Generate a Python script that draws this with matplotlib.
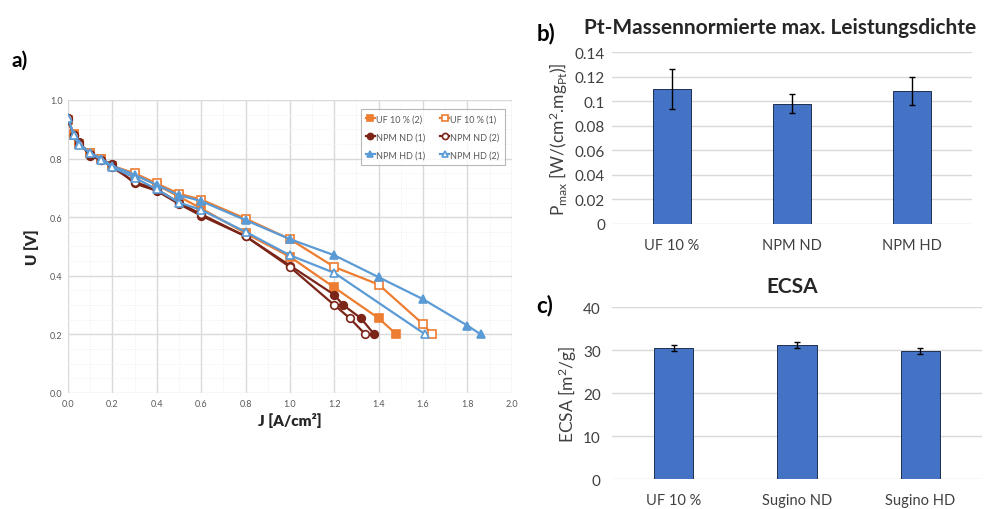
import numpy as np
import matplotlib.pyplot as plt
from matplotlib.ticker import MultipleLocator

plt.rcParams['font.family'] = ['Lato', 'DejaVu Sans']
plt.rcParams['mathtext.fontset'] = 'custom'
plt.rcParams['mathtext.rm'] = 'Lato'
plt.rcParams['mathtext.it'] = 'Lato:italic'
plt.rcParams['mathtext.bf'] = 'Lato:bold'

# ---- a) polarisation curves ----
J_uf2 = [0, 0.025, 0.05, 0.1, 0.15, 0.2, 0.3, 0.4, 0.5, 0.6, 0.8, 1.0, 1.2, 1.4, 1.48]
U_uf2 = [0.93, 0.885, 0.85, 0.82, 0.80, 0.775, 0.745, 0.71, 0.67, 0.63, 0.545, 0.465, 0.36, 0.255, 0.20]

J_uf1 = [0, 0.025, 0.05, 0.1, 0.15, 0.2, 0.3, 0.4, 0.5, 0.6, 0.8, 1.0, 1.2, 1.4, 1.6, 1.64]
U_uf1 = [0.93, 0.88, 0.85, 0.82, 0.80, 0.775, 0.75, 0.715, 0.68, 0.66, 0.595, 0.525, 0.43, 0.37, 0.235, 0.20]

J_nd1 = [0, 0.025, 0.05, 0.1, 0.15, 0.2, 0.3, 0.4, 0.5, 0.6, 0.8, 1.0, 1.2, 1.24, 1.32, 1.38]
U_nd1 = [0.93, 0.88, 0.855, 0.81, 0.795, 0.78, 0.715, 0.69, 0.645, 0.605, 0.535, 0.435, 0.335, 0.30, 0.255, 0.20]

J_nd2 = [0, 0.025, 0.05, 0.1, 0.15, 0.2, 0.3, 0.4, 0.5, 0.6, 0.8, 1.0, 1.2, 1.27, 1.34]
U_nd2 = [0.94, 0.88, 0.85, 0.815, 0.795, 0.77, 0.72, 0.695, 0.65, 0.61, 0.535, 0.43, 0.30, 0.255, 0.20]

J_hd1 = [0, 0.025, 0.05, 0.1, 0.15, 0.2, 0.3, 0.4, 0.5, 0.6, 0.8, 1.0, 1.2, 1.4, 1.6, 1.8, 1.86]
U_hd1 = [0.94, 0.88, 0.85, 0.82, 0.80, 0.775, 0.745, 0.71, 0.675, 0.655, 0.59, 0.525, 0.47, 0.395, 0.32, 0.23, 0.20]

J_hd2 = [0, 0.025, 0.05, 0.1, 0.15, 0.2, 0.3, 0.4, 0.5, 0.6, 0.8, 1.0, 1.2, 1.61]
U_hd2 = [0.94, 0.88, 0.845, 0.82, 0.795, 0.77, 0.735, 0.695, 0.65, 0.625, 0.55, 0.47, 0.41, 0.20]

# ---- b) mass-normalised max. power density ----
b_labels = ['UF 10 %', 'NPM ND', 'NPM HD']
b_values = [0.110, 0.098, 0.108]
b_errors = [0.016, 0.008, 0.0115]

# ---- c) ECSA ----
c_labels = ['UF 10 %', 'Sugino ND', 'Sugino HD']
c_values = [30.5, 31.2, 29.8]
c_errors = [0.6, 0.6, 0.7]

orange = '#ED7D31'
darkred = '#7B2418'
blue = '#5B9BD5'
bar_blue = '#4472C4'
grid_col = '#D9D9D9'
tick_col = '#595959'

fig = plt.figure(figsize=(9.9, 5.1), dpi=100)

# ---------------- a) ----------------
ax = fig.add_axes([0.0687, 0.2275, 0.4483, 0.5745])
series = [
    (J_uf2, U_uf2, orange, 's', True, 'UF 10 % (2)'),
    (J_uf1, U_uf1, orange, 's', False, 'UF 10 % (1)'),
    (J_nd1, U_nd1, darkred, 'o', True, 'NPM ND (1)'),
    (J_nd2, U_nd2, darkred, 'o', False, 'NPM ND (2)'),
    (J_hd1, U_hd1, blue, '^', True, 'NPM HD (1)'),
    (J_hd2, U_hd2, blue, '^', False, 'NPM HD (2)'),
]
handles = []
for j, u, c, m, filled, lab in series:
    h, = ax.plot(j, u, color=c, marker=m, markersize=5.5, linewidth=1.6,
                 markerfacecolor=c if filled else 'white', markeredgecolor=c,
                 markeredgewidth=1.2, label=lab, zorder=3)
    handles.append(h)

ax.set_xlim(0, 2.0)
ax.set_ylim(0, 1.0)
ax.xaxis.set_major_locator(MultipleLocator(0.2))
ax.yaxis.set_major_locator(MultipleLocator(0.2))
ax.xaxis.set_minor_locator(MultipleLocator(0.1))
ax.yaxis.set_minor_locator(MultipleLocator(0.05))
ax.xaxis.set_major_formatter(plt.FormatStrFormatter('%.1f'))
ax.yaxis.set_major_formatter(plt.FormatStrFormatter('%.1f'))
ax.grid(which='major', color=grid_col, linewidth=1.0)
ax.grid(which='minor', color='#EEEEEE', linewidth=0.7, linestyle=':')
ax.set_axisbelow(True)
for s in ax.spines.values():
    s.set_visible(False)
ax.tick_params(which='both', length=0, labelsize=6.5, colors=tick_col, pad=4)
ax.set_xlabel('J [A/cm²]', fontsize=11, fontweight='heavy', color='#262626', labelpad=3)
ax.set_ylabel('U [V]', fontsize=11, fontweight='heavy', color='#262626', labelpad=8)

# legend filled row by row: (2)/(1) pairs side by side
order = [0, 2, 4, 1, 3, 5]
leg = ax.legend([handles[i] for i in order], [series[i][5] for i in order],
                ncol=2, loc='upper right', fontsize=6.5, frameon=True, fancybox=False,
                edgecolor='#A6A6A6', handlelength=1.0, handletextpad=0.15,
                columnspacing=1.6, labelspacing=1.0, markerscale=0.8,
                borderpad=0.6, bbox_to_anchor=(0.995, 0.985))
leg.get_frame().set_linewidth(0.8)
for t in leg.get_texts():
    t.set_color(tick_col)
fig.text(0.012, 0.87, 'a)', fontsize=15, fontweight='bold')

# ---------------- b) ----------------
axb = fig.add_axes([0.618, 0.559, 0.364, 0.337])
xb = np.arange(len(b_labels))
axb.bar(xb, b_values, width=0.32, color=bar_blue, edgecolor='#1F2F4F', linewidth=0.7,
        yerr=b_errors, capsize=2.5, error_kw=dict(ecolor='black', elinewidth=1.0, capthick=1.0),
        zorder=3)
axb.set_xlim(-0.5, 2.5)
axb.set_ylim(0, 0.14)
axb.set_yticks(np.arange(0, 0.141, 0.02))
axb.set_yticklabels(['0', '0.02', '0.04', '0.06', '0.08', '0.1', '0.12', '0.14'])
axb.set_xticks(xb)
axb.set_xticklabels(b_labels)
axb.grid(axis='y', color=grid_col, linewidth=1.0)
axb.set_axisbelow(True)
for s in axb.spines.values():
    s.set_visible(False)
axb.tick_params(length=0, labelsize=11, colors='#404040', pad=5)
axb.tick_params(axis='x', labelsize=10.5, pad=10)
axb.set_ylabel(r'P$_{\mathrm{max}}$ [W/(cm$^2$.mg$_{\mathrm{Pt}}$)]', fontsize=12.5,
               color='#404040', labelpad=3)
fig.text(0.788, 0.945, 'Pt-Massennormierte max. Leistungsdichte', fontsize=15,
         fontweight='bold', ha='center', va='center', color='#262626')
fig.text(0.542, 0.935, 'b)', fontsize=16, fontweight='bold', va='center')

# ---------------- c) ----------------
axc = fig.add_axes([0.618, 0.0588, 0.374, 0.337])
xc = np.arange(len(c_labels))
axc.bar(xc, c_values, width=0.32, color=bar_blue, edgecolor='#1F2F4F', linewidth=0.7,
        yerr=c_errors, capsize=2.5, error_kw=dict(ecolor='black', elinewidth=1.0, capthick=1.0),
        zorder=3)
axc.set_xlim(-0.5, 2.5)
axc.set_ylim(0, 40)
axc.set_yticks([0, 10, 20, 30, 40])
axc.set_xticks(xc)
axc.set_xticklabels(c_labels)
axc.grid(axis='y', color=grid_col, linewidth=1.0)
axc.set_axisbelow(True)
for s in axc.spines.values():
    s.set_visible(False)
axc.tick_params(length=0, labelsize=11, colors='#404040', pad=8)
axc.tick_params(axis='x', labelsize=10.5, pad=10)
axc.set_ylabel('ECSA [m$^2$/g]', fontsize=12.5, color='#404040', labelpad=3)
fig.text(0.80, 0.437, 'ECSA', fontsize=15, fontweight='bold', ha='center', va='center',
         color='#262626')
fig.text(0.542, 0.40, 'c)', fontsize=16, fontweight='bold', va='center')

fig.savefig('out.png', dpi=100)
